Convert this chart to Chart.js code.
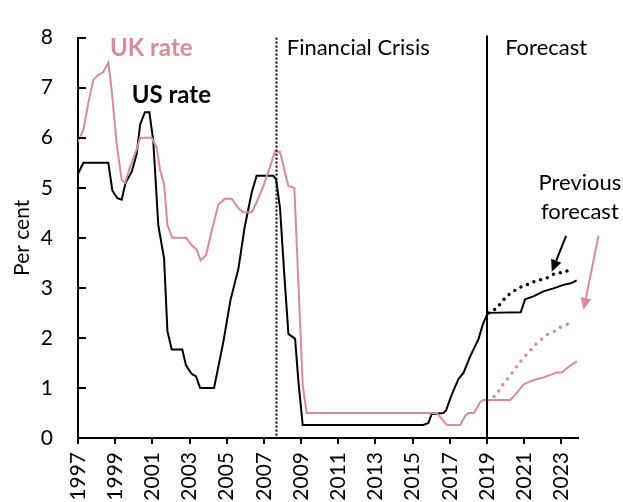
<!DOCTYPE html>
<html><head><meta charset="utf-8">
<script src="https://cdn.jsdelivr.net/npm/chart.js@4/dist/chart.umd.min.js"></script>
<style>html,body{margin:0;padding:0;background:#fff}</style>
</head><body>
<canvas id="c" width="623" height="502"></canvas>
<script>
// ---- data ----
const usYears = [1997.0,1997.29,1998.63,1998.85,1999.12,1999.35,1999.56,1999.89,2000.16,2000.34,2000.6,2000.84,2001.05,2001.2,2001.32,2001.63,2001.81,2002.04,2002.61,2002.81,2003.12,2003.35,2003.57,2004.32,2004.82,2005.2,2005.63,2005.96,2006.35,2006.61,2007.51,2007.66,2007.87,2008.08,2008.32,2008.68,2008.86,2009.09,2015.58,2015.85,2016.03,2016.66,2016.8,2017.1,2017.47,2017.74,2018.1,2018.55,2018.78,2018.96,2019.08,2020.82,2021.05,2021.5,2022.04,2022.58,2023.12,2023.51,2023.83];
const usRates = [5.28,5.50,5.50,4.94,4.79,4.76,5.10,5.32,5.68,6.26,6.51,6.51,5.93,5.0,4.25,3.59,2.14,1.77,1.77,1.45,1.28,1.23,1.00,1.00,1.92,2.75,3.38,4.2,4.91,5.24,5.24,5.16,4.59,3.37,2.08,1.98,1.12,0.26,0.26,0.30,0.48,0.50,0.55,0.86,1.18,1.30,1.63,1.98,2.27,2.43,2.50,2.51,2.77,2.83,2.93,2.99,3.06,3.09,3.15];
const ukYears = [1997.0,1997.29,1997.56,1997.82,1998.09,1998.36,1998.63,1998.81,1999.08,1999.35,1999.53,1999.8,2000.16,2000.34,2000.96,2001.23,2001.41,2001.63,2001.81,2002.07,2002.81,2003.12,2003.39,2003.6,2003.89,2004.19,2004.55,2004.91,2005.27,2005.63,2005.9,2006.35,2006.61,2006.97,2007.33,2007.6,2007.87,2008.32,2008.64,2009.09,2009.3,2016.3,2016.57,2016.84,2017.56,2017.83,2018.0,2018.31,2018.64,2018.81,2020.25,2020.52,2020.97,2021.33,2021.69,2022.04,2022.49,2022.76,2023.03,2023.39,2023.83];
const ukRates = [5.92,6.16,6.7,7.15,7.25,7.31,7.5,6.96,5.87,5.16,5.10,5.42,5.77,6.0,6.0,5.81,5.36,5.07,4.26,4.0,4.0,3.85,3.76,3.55,3.65,4.14,4.66,4.78,4.78,4.59,4.51,4.51,4.71,5.03,5.42,5.73,5.71,5.03,5.0,1.05,0.5,0.5,0.38,0.26,0.26,0.44,0.5,0.5,0.72,0.76,0.76,0.86,1.07,1.13,1.18,1.21,1.27,1.31,1.31,1.42,1.53];
const usPrevYears = [2019.08,2019.53,2019.8,2020.07,2020.43,2020.79,2021.15,2021.51,2021.87,2022.23,2022.58,2022.94,2023.26,2023.57];
const usPrev = [2.50,2.60,2.72,2.83,2.93,3.01,3.06,3.12,3.16,3.20,3.27,3.30,3.33,3.38];
const ukPrevYears = [2019.03,2019.53,2019.71,2019.98,2020.21,2020.47,2020.7,2020.97,2021.24,2021.51,2021.78,2022.04,2022.31,2022.67,2022.94,2023.3,2023.61];
const ukPrev = [0.75,0.87,1.0,1.12,1.23,1.35,1.48,1.6,1.71,1.82,1.92,2.0,2.08,2.14,2.21,2.27,2.35];
const xTickYears = [1997,1999,2001,2003,2005,2007,2009,2011,2013,2015,2017,2019,2021,2023];
const xTickLabels = ['1997','1999','2001','2003','2005','2007','2009','2011','2013','2015','2017','2019','2021','2023'];
const crisisYear = 2007.67;
const forecastYear = 2019.0;

const FONT = 'Lato, "Open Sans", sans-serif';
const PINK = 'rgb(219,139,149)';
const pts = (xs, ys) => xs.map((v, i) => ({x: v, y: ys[i]}));

const overlay = {
  id: 'overlay',
  afterDatasetsDraw(chart) {
    const {ctx, chartArea: a, scales: {x, y}} = chart;
    ctx.save();
    ctx.strokeStyle = '#000';
    ctx.lineWidth = 2;
    ctx.setLineDash([2, 2]);
    let px = Math.round(x.getPixelForValue(crisisYear)) + 0.5;
    ctx.beginPath(); ctx.moveTo(px, a.top); ctx.lineTo(px, a.bottom); ctx.stroke();
    ctx.setLineDash([]);
    px = Math.round(x.getPixelForValue(forecastYear));
    ctx.beginPath(); ctx.moveTo(px, a.top - 2); ctx.lineTo(px, a.bottom); ctx.stroke();
    ctx.restore();
  },
  afterDraw(chart) {
    const {ctx, chartArea: a, scales: {x, y}} = chart;
    ctx.save();
    ctx.strokeStyle = '#000';
    ctx.lineWidth = 2;
    y.ticks.forEach(t => {
      const py = Math.round(y.getPixelForValue(t.value));
      ctx.beginPath(); ctx.moveTo(a.left, py); ctx.lineTo(a.left + 8, py); ctx.stroke();
    });
    const txt = (s, xv, yv, font, color, align) => {
      ctx.font = font; ctx.fillStyle = color; ctx.textAlign = align || 'left'; ctx.textBaseline = 'alphabetic';
      ctx.fillText(s, x.getPixelForValue(xv), y.getPixelForValue(yv));
    };
    txt('UK rate', 1998.72, 7.63, 'bold 24px ' + FONT, PINK);
    txt('US rate', 1999.89, 6.69, 'bold 24px ' + FONT, '#000');
    txt('Financial Crisis', 2008.23, 7.65, '22px ' + FONT, '#000');
    txt('Forecast', 2019.98, 7.65, '22px ' + FONT, '#000');
    txt('Previous', 2024.0, 4.95, '22px ' + FONT, '#000', 'center');
    txt('forecast', 2024.0, 4.38, '22px ' + FONT, '#000', 'center');
    const arrow = (x1, y1, x2, y2, color) => {
      const X1 = x.getPixelForValue(x1), Y1 = y.getPixelForValue(y1);
      const X2 = x.getPixelForValue(x2), Y2 = y.getPixelForValue(y2);
      const ang = Math.atan2(Y2 - Y1, X2 - X1);
      const hl = 12, hw = 5.5;
      const bx = X2 - hl * Math.cos(ang), by = Y2 - hl * Math.sin(ang);
      ctx.strokeStyle = color; ctx.fillStyle = color; ctx.lineWidth = 2;
      ctx.beginPath(); ctx.moveTo(X1, Y1); ctx.lineTo(bx, by); ctx.stroke();
      ctx.beginPath();
      ctx.moveTo(X2, Y2);
      ctx.lineTo(bx + hw * Math.sin(ang), by - hw * Math.cos(ang));
      ctx.lineTo(bx - hw * Math.sin(ang), by + hw * Math.cos(ang));
      ctx.closePath(); ctx.fill();
    };
    arrow(2023.26, 4.04, 2022.49, 3.32, '#000');
    arrow(2025.0, 4.04, 2024.2, 2.56, PINK);
    ctx.restore();
  }
};

new Chart(document.getElementById('c'), {
  type: 'line',
  data: {
    datasets: [
      {label: 'UK rate', data: pts(ukYears, ukRates), borderColor: PINK, borderWidth: 2, pointRadius: 0, tension: 0},
      {label: 'US rate', data: pts(usYears, usRates), borderColor: '#000', borderWidth: 2, pointRadius: 0, tension: 0},
      {label: 'UK previous forecast', data: pts(ukPrevYears, ukPrev), borderColor: PINK, borderWidth: 3.5, borderDash: [0, 7.5], borderCapStyle: 'round', pointRadius: 0, tension: 0.3},
      {label: 'US previous forecast', data: pts(usPrevYears, usPrev), borderColor: '#000', borderWidth: 3.5, borderDash: [0, 7], borderCapStyle: 'round', pointRadius: 0, tension: 0.3}
    ]
  },
  options: {
    responsive: false,
    animation: false,
    devicePixelRatio: 1,
    layout: {padding: {left: 0, top: 23, right: 45, bottom: 0}},
    plugins: {legend: {display: false}, tooltip: {enabled: false}},
    scales: {
      x: {
        type: 'linear', min: 1997, max: 2023.9,
        afterBuildTicks: s => { s.ticks = xTickYears.map(v => ({value: v})); },
        afterFit: s => { s.height = 64; },
        ticks: {autoSkip: false, maxRotation: 90, minRotation: 90, padding: 8, color: '#000',
          font: {size: 21, family: FONT}, callback: (v, i) => xTickLabels[i]},
        grid: {drawOnChartArea: false, drawTicks: true, tickLength: 6, color: '#000', lineWidth: 2},
        border: {color: '#000', width: 2}
      },
      y: {
        min: 0, max: 8,
        afterFit: s => { s.width = 78; },
        ticks: {stepSize: 1, padding: 25, color: '#000', font: {size: 21, family: FONT}},
        grid: {drawOnChartArea: false, drawTicks: false},
        border: {color: '#000', width: 2},
        title: {display: true, text: 'Per cent', color: '#000', font: {size: 21, family: FONT}, padding: {top: 10, bottom: 0}}
      }
    }
  },
  plugins: [overlay]
});
</script>
</body></html>
